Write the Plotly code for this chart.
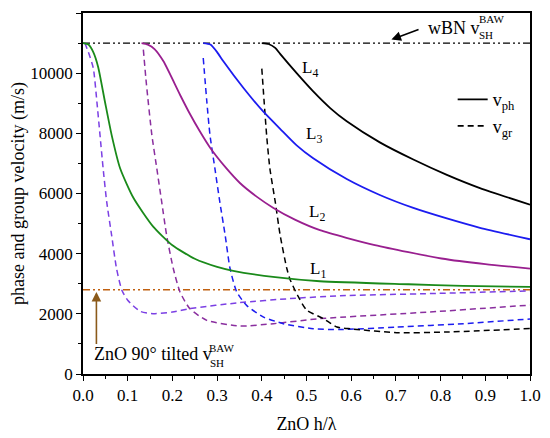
import plotly.graph_objects as go

# ---- data ----
L1_ph_x = [0.0, 0.012, 0.023, 0.034, 0.049, 0.064, 0.083, 0.113, 0.157, 0.2, 0.25, 0.3, 0.336, 0.43, 0.53, 0.728, 0.85, 1.0]
L1_ph_y = [11000, 10950, 10700, 10200, 9060, 7950, 6840, 5850, 4900, 4280, 3830, 3560, 3430, 3220, 3083, 2983, 2930, 2894]

L2_ph_x = [0.131, 0.145, 0.16, 0.18, 0.217, 0.239, 0.262, 0.284, 0.32, 0.351, 0.39, 0.426, 0.474, 0.53, 0.653, 0.802, 0.9, 1.0]
L2_ph_y = [11000, 10950, 10800, 10393, 9283, 8650, 8050, 7530, 6850, 6350, 5880, 5520, 5130, 4780, 4283, 3839, 3650, 3506]

L3_ph_x = [0.269, 0.285, 0.3, 0.314, 0.359, 0.403, 0.441, 0.478, 0.515, 0.59, 0.664, 0.739, 0.814, 0.888, 1.0]
L3_ph_y = [11000, 10950, 10700, 10393, 9506, 8727, 8150, 7600, 7170, 6480, 5950, 5520, 5170, 4860, 4478]

L4_ph_x = [0.4, 0.415, 0.43, 0.441, 0.478, 0.515, 0.553, 0.59, 0.664, 0.739, 0.814, 0.888, 1.0]
L4_ph_y = [11000, 10970, 10840, 10640, 10000, 9393, 8840, 8400, 7700, 7130, 6620, 6180, 5630]

L1_gr_x = [0.004, 0.012, 0.023, 0.031, 0.038, 0.045, 0.053, 0.064, 0.075, 0.087, 0.1, 0.128, 0.16, 0.2, 0.239, 0.351, 0.463, 0.575, 0.776, 1.0]
L1_gr_y = [11000, 10700, 10173, 9060, 7950, 6840, 5727, 4617, 3506, 2783, 2450, 2083, 2006, 2061, 2173, 2373, 2506, 2600, 2673, 2761]

L2_gr_x = [0.135, 0.142, 0.154, 0.165, 0.176, 0.187, 0.202, 0.217, 0.239, 0.277, 0.351, 0.426, 0.53, 0.776, 1.0]
L2_gr_y = [10783, 9617, 7950, 6840, 5727, 4617, 3506, 2727, 2173, 1783, 1595, 1673, 1840, 2061, 2290]

L3_gr_x = [0.269, 0.277, 0.284, 0.295, 0.306, 0.318, 0.329, 0.344, 0.366, 0.403, 0.448, 0.515, 0.575, 0.702, 0.851, 1.0]
L3_gr_y = [10506, 9060, 7950, 6840, 5727, 4617, 3506, 2727, 2280, 1900, 1673, 1506, 1478, 1561, 1673, 1830]

L4_gr_x = [0.4, 0.411, 0.418, 0.43, 0.441, 0.456, 0.463, 0.48, 0.5, 0.538, 0.568, 0.6, 0.702, 0.813, 1.0]
L4_gr_y = [10150, 7900, 6840, 5727, 4617, 3506, 3150, 2617, 2130, 1840, 1561, 1500, 1373, 1394, 1510]

wBN_bulk = 11000
ZnO_bulk = 2800
x_ticks = [0.0, 0.1, 0.2, 0.3, 0.4, 0.5, 0.6, 0.7, 0.8, 0.9, 1.0]
y_ticks = [0, 2000, 4000, 6000, 8000, 10000, 12000]

FONT = "Liberation Serif, Times New Roman, Times, DejaVu Serif, serif"
c_green = "#1a8a1a"
c_purple = "#991f8f"
c_blue = "#1c1cf0"
c_black = "#000000"
c_violet = "#7b3fe4"
c_purple_d = "#8a2f9f"
c_brown = "#c06010"
DASH = "6px,4px"
DDOT = "7px,3px,2px,3px,2px,3px"

fig = go.Figure()

# horizontal bulk-velocity lines
fig.add_trace(go.Scatter(x=[0, 1], y=[wBN_bulk, wBN_bulk], mode="lines",
                         line=dict(color=c_black, width=1.3, dash=DDOT), showlegend=False))
fig.add_trace(go.Scatter(x=[0, 1], y=[ZnO_bulk, ZnO_bulk], mode="lines",
                         line=dict(color=c_brown, width=1.3, dash=DDOT), showlegend=False))

for xs, ys, col in [(L1_gr_x, L1_gr_y, c_violet), (L2_gr_x, L2_gr_y, c_purple_d),
                    (L3_gr_x, L3_gr_y, c_blue), (L4_gr_x, L4_gr_y, c_black)]:
    fig.add_trace(go.Scatter(x=xs, y=ys, mode="lines",
                             line=dict(color=col, width=1.5, dash=DASH, shape="spline", smoothing=0.6),
                             showlegend=False))

for xs, ys, col in [(L1_ph_x, L1_ph_y, c_green), (L2_ph_x, L2_ph_y, c_purple),
                    (L3_ph_x, L3_ph_y, c_blue), (L4_ph_x, L4_ph_y, c_black)]:
    fig.add_trace(go.Scatter(x=xs, y=ys, mode="lines",
                             line=dict(color=col, width=1.8, shape="spline", smoothing=0.6),
                             showlegend=False))

# legend entries
fig.add_trace(go.Scatter(x=[None], y=[None], mode="lines", name="v<sub>ph</sub>",
                         line=dict(color="black", width=1.8)))
fig.add_trace(go.Scatter(x=[None], y=[None], mode="lines", name="v<sub>gr</sub>",
                         line=dict(color="black", width=1.8, dash=DASH)))

ann = []
for txt, ax_, ay_ in [("L<sub>4</sub>", 0.508, 10150), ("L<sub>3</sub>", 0.517, 7950),
                      ("L<sub>2</sub>", 0.524, 5340), ("L<sub>1</sub>", 0.525, 3450)]:
    ann.append(dict(x=ax_, y=ay_, xref="x", yref="y", text=txt, showarrow=False,
                    font=dict(family=FONT, size=17, color="black")))

# wBN label
ann.append(dict(x=0.767, y=11500, xref="x", yref="y", text="wBN v", xanchor="left", showarrow=False,
                font=dict(family=FONT, size=18, color="black")))
ann.append(dict(x=0.881, y=11800, xref="x", yref="y", text="BAW", xanchor="left", showarrow=False,
                font=dict(family=FONT, size=11, color="black")))
ann.append(dict(x=0.881, y=11260, xref="x", yref="y", text="SH", xanchor="left", showarrow=False,
                font=dict(family=FONT, size=11, color="black")))
ann.append(dict(x=0.69, y=11117, ax=0.754, ay=11473, xref="x", yref="y", axref="x", ayref="y",
                text="", showarrow=True, arrowhead=2, arrowsize=1.2, arrowwidth=1.6, arrowcolor="black"))

# ZnO label
ann.append(dict(x=0.02, y=673, xref="x", yref="y", text="ZnO 90° tilted v", xanchor="left", showarrow=False,
                font=dict(family=FONT, size=18, color="black")))
ann.append(dict(x=0.278, y=880, xref="x", yref="y", text="BAW", xanchor="left", showarrow=False,
                font=dict(family=FONT, size=11, color="black")))
ann.append(dict(x=0.28, y=370, xref="x", yref="y", text="SH", xanchor="left", showarrow=False,
                font=dict(family=FONT, size=11, color="black")))
ann.append(dict(x=0.03, y=2727, ax=0.03, ay=950, xref="x", yref="y", axref="x", ayref="y",
                text="", showarrow=True, arrowhead=2, arrowsize=1.2, arrowwidth=1.6, arrowcolor="#8b5a1a"))

axis_common = dict(showline=True, linecolor="black", linewidth=1.5, mirror=True,
                   ticks="outside", ticklen=5, tickwidth=1.3, tickcolor="black",
                   showgrid=False, zeroline=False, automargin=False,
                   tickfont=dict(family=FONT, size=17, color="black"))

# the page body adds an 8px offset, so margins compensate for it
fig.update_layout(
    width=550, height=438,
    margin=dict(l=75, r=28, t=5, b=72),
    paper_bgcolor="white", plot_bgcolor="white",
    font=dict(family=FONT),
    xaxis=dict(range=[0, 1], tickvals=x_ticks, ticktext=[f"{v:.1f}" for v in x_ticks],
               minor=dict(ticks="outside", ticklen=3, tickwidth=1.2, tickcolor="black", dtick=0.05),
               title=dict(text="ZnO h/λ", font=dict(family=FONT, size=18, color="black"), standoff=13),
               **axis_common),
    yaxis=dict(range=[0, 12000], tickvals=y_ticks, ticktext=[str(v) for v in y_ticks],
               minor=dict(ticks="outside", ticklen=3, tickwidth=1.2, tickcolor="black", dtick=1000),
               title=dict(text="phase and group velocity (m/s)", font=dict(family=FONT, size=18, color="black"), standoff=3),
               **axis_common),
    legend=dict(x=0.827, y=0.811, xanchor="left", yanchor="top", bgcolor="rgba(0,0,0,0)",
                font=dict(family=FONT, size=18, color="black"), tracegroupgap=4),
    annotations=ann,
)

fig.write_html("out.html")
